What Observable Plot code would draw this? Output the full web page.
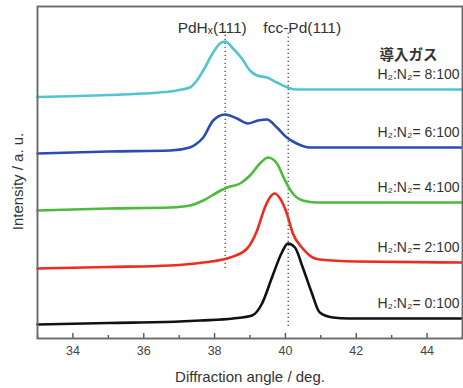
<!DOCTYPE html>
<html>
<head>
<meta charset="utf-8">
<script src="https://cdn.jsdelivr.net/npm/d3@7"></script>
<script src="https://cdn.jsdelivr.net/npm/@observablehq/plot@0.6"></script>
<style>
  html, body { margin: 0; padding: 0; background: #fff; }
  svg { font-family: "Liberation Sans", Arial, sans-serif; }
</style>
</head>
<body>
<div id="chart"></div>
<script>
// ---- Data ----
const seriesNames = ["H₂:N₂= 8:100", "H₂:N₂= 6:100", "H₂:N₂= 4:100", "H₂:N₂= 2:100", "H₂:N₂= 0:100"];
const seriesColors = ["#50c5d2", "#2a4db2", "#4cba3a", "#ee2c1e", "#111111"];

const angle8 = [33, 35, 36.75, 37.0, 37.3, 37.5, 37.68, 37.96, 38.15, 38.3, 38.52, 38.77, 39.0, 39.2, 39.48, 39.76, 40.07, 40.3, 41, 43, 45];
const int8   = [241.5, 243.5, 247, 248.5, 251, 258, 268, 286, 295, 297, 290, 280, 268, 263, 261, 256, 251, 249, 249, 249, 249];

const angle6 = [33, 35, 36.75, 37.3, 37.5, 37.68, 37.96, 38.3, 38.63, 38.94, 39.23, 39.48, 39.76, 40.04, 40.32, 40.69, 41.5, 43, 45];
const int6   = [185, 187, 188, 191, 195, 201, 218, 224, 220, 215, 218, 219, 211, 201, 195, 191, 191, 191, 191];

const angle4 = [33, 35, 36.75, 37.3, 37.68, 38.07, 38.35, 38.72, 39.0, 39.28, 39.51, 39.76, 39.99, 40.21, 40.49, 40.89, 42, 45];
const int4   = [128, 130, 131, 133, 138, 146, 151, 155, 163, 175, 181, 175, 158, 145, 138, 136, 136, 136];

const angle2 = [33, 35, 36.75, 37.68, 38.44, 38.92, 39.2, 39.42, 39.56, 39.7, 39.85, 40.04, 40.21, 40.49, 40.77, 40.97, 42, 45];
const int2   = [70, 71.5, 73, 76, 81, 90, 108, 131, 141, 145, 140, 125, 105, 90, 81, 79, 77, 76];

const angle0 = [33, 35, 37, 37.6, 38.52, 39.06, 39.34, 39.62, 39.9, 40.07, 40.27, 40.49, 40.75, 40.97, 41.34, 41.8, 43, 45];
const int0   = [14, 15.5, 17, 18, 20, 23, 35, 61, 86, 95, 91, 71, 45, 26, 21, 20, 20, 20];

const majorTicks = [34, 36, 38, 40, 42, 44];
const minorTicks = [33, 35, 37, 39, 41, 43, 45];

const peakNames = ["PdHₓ(111)", "fcc-Pd(111)"];
const peakAngles = [38.3, 40.08];
const peakLineBottom = [70, 12];   // lower end of each dotted guide (intensity units)
const peakLineTop = 308;

const gasTitle = "導入ガス";
const xLabel = "Diffraction angle / deg.";
const yLabel = "Intensity / a. u.";

// ---- Build tables ----
const angles = [angle8, angle6, angle4, angle2, angle0];
const ints = [int8, int6, int4, int2, int0];
const rows = [];
angles.forEach((a, s) => a.forEach((x, i) => rows.push({series: seriesNames[s], angle: x, intensity: ints[s][i]})));
const lastPts = seriesNames.map((n, s) => ({series: n, angle: angles[s][angles[s].length - 1], intensity: ints[s][ints[s].length - 1]}));
const peaks = peakNames.map((n, i) => ({name: n, angle: peakAngles[i], y1: peakLineBottom[i], y2: peakLineTop}));

const chart = Plot.plot({
  width: 463,
  height: 388,
  marginTop: 6,
  marginBottom: 50,
  marginLeft: 37,
  marginRight: 1,
  style: {background: "#fff", fontFamily: "'Liberation Sans', Arial, sans-serif"},
  x: {domain: [33, 45]},
  y: {domain: [0, 332], axis: null},
  color: {domain: seriesNames, range: seriesColors},
  marks: [
    Plot.ruleX(peaks, {x: "angle", y1: "y1", y2: "y2", stroke: "#555", strokeWidth: 1.4, strokeDasharray: "1.3,2.7"}),
    Plot.line(rows, {x: "angle", y: "intensity", z: "series", stroke: "series", strokeWidth: 2.6, curve: "monotone-x"}),
    Plot.axisX({ticks: majorTicks, tickSize: -5, tickFormat: () => "", label: null, stroke: "#555", strokeWidth: 1.4}),
    Plot.axisX({ticks: minorTicks, tickSize: -3, tickFormat: () => "", label: null, stroke: "#555", strokeWidth: 1.4}),
    Plot.axisX({ticks: majorTicks, tickSize: 0, tickPadding: 8, label: null, fontSize: 12.5, fill: "#444"}),
    Plot.frame({stroke: "#6a6a6a", strokeWidth: 1.9}),
    Plot.text([xLabel], {frameAnchor: "bottom", dy: 39, lineAnchor: "middle", fontSize: 15, fill: "#333"}),
    Plot.text([yLabel], {frameAnchor: "left", textAnchor: "middle", rotate: -90, dx: -19, dy: 9, lineAnchor: "middle", fontSize: 15, fill: "#333"}),
    Plot.text(peaks, {x: "angle", frameAnchor: "top", dy: 15, text: "name", fontSize: 15.5, fill: "#333"}),
    Plot.text(lastPts, {x: "angle", y: "intensity", text: "series", textAnchor: "end", dx: -3, dy: -15, fontSize: 14, fill: "#333"}),
    Plot.text([lastPts[0]], {x: "angle", y: "intensity", text: () => gasTitle, textAnchor: "end", dx: -25, dy: -34, fontSize: 14.5, fontWeight: "bold", fill: "#333", fontFamily: "'Noto Sans CJK JP', sans-serif"})
  ]
});

// shift the two peak labels so that the guide lines meet them as in the reference
d3.select(chart).selectAll("text").each(function() {
  const t = this.textContent;
  if (t === peakNames[0]) this.setAttribute("dx", "-13");
  if (t === peakNames[1]) this.setAttribute("dx", "14");
});

document.getElementById("chart").appendChild(chart);
</script>
</body>
</html>
